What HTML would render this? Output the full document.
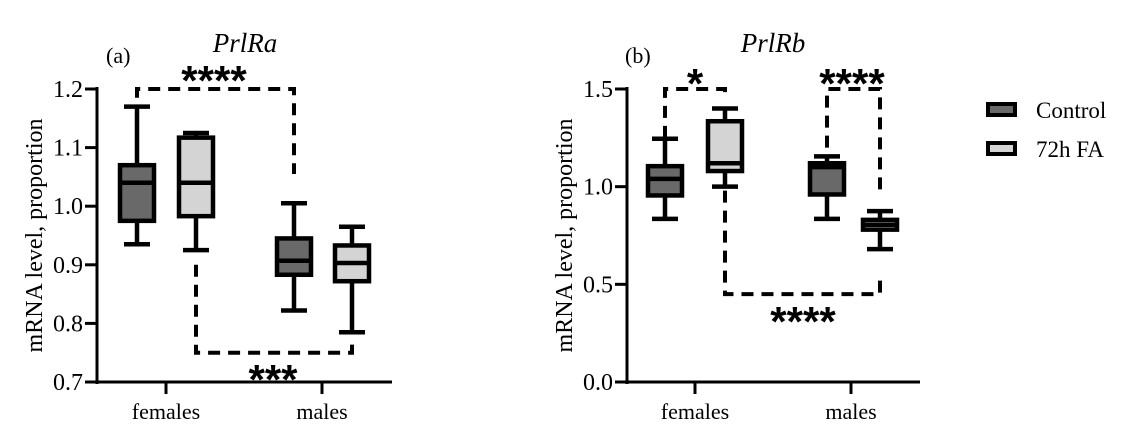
<!DOCTYPE html>
<html><head><meta charset="utf-8"><style>
html,body{margin:0;padding:0;background:#fff;}
svg{display:block;font-family:"Liberation Serif",serif;}
.star{font-family:"Liberation Sans",sans-serif;font-weight:bold;font-size:42px;}
</style></head><body>
<svg id="chart" width="1129" height="435" viewBox="0 0 1129 435"></svg>
<script>
const groups = ["females","males"];
const seriesNames = ["Control","72h FA"];
// [whiskerLow, q1, median, q3, whiskerHigh]
const aControl = [[0.935,0.975,1.04,1.07,1.17],[0.822,0.883,0.907,0.945,1.005]];
const aFA = [[0.925,0.983,1.04,1.117,1.125],[0.785,0.872,0.903,0.933,0.965]];
const bControl = [[0.835,0.955,1.04,1.105,1.245],[0.835,0.96,1.1,1.12,1.155]];
const bFA = [[1.0,1.08,1.12,1.335,1.40],[0.68,0.78,0.805,0.83,0.875]];
const aTicks = [0.7,0.8,0.9,1.0,1.1,1.2];
const bTicks = [0.0,0.5,1.0,1.5];

const NS="http://www.w3.org/2000/svg";
const svg=document.getElementById('chart');
function el(tag,attrs,parent){const e=document.createElementNS(NS,tag);for(const k in attrs)e.setAttribute(k,attrs[k]);(parent||svg).appendChild(e);return e;}
const fills=["#696969","#d4d4d4"];

function panel(p){
  const g=el('g',{});
  
  
  const y=v=>p.y0+(v-p.vmin)/(p.vmax-p.vmin)*(p.y1-p.y0);
  const ya=el('line',{x1:p.ax,y1:p.y1-2,x2:p.ax,y2:p.y0+2,stroke:'#000','stroke-width':3},g);
  
  const xa=el('line',{x1:p.ax-12,y1:p.y0,x2:p.axEnd,y2:p.y0,stroke:'#000','stroke-width':3},g);
  
  p.ticks.forEach(t=>{
    el('line',{x1:p.ax-12,x2:p.ax,y1:y(t),y2:y(t),stroke:'#000','stroke-width':3},g);
    const tx=el('text',{x:p.ax-14,y:y(t)+8,'text-anchor':'end','font-size':24},g);
    tx.textContent=t.toFixed(1);
    
  });
  groups.forEach((gname,i)=>{
    el('line',{x1:p.gx[i],x2:p.gx[i],y1:p.y0,y2:p.y0+12,stroke:'#000','stroke-width':3},g);
    const tx=el('text',{x:p.gx[i],y:p.y0+37,'text-anchor':'middle','font-size':22},g);
    tx.textContent=gname;
    
  });
  const yl=el('text',{x:0,y:0,'text-anchor':'middle','font-size':24,transform:`translate(${p.ylx},${(p.y0+p.y1)/2}) rotate(-90)`},g);
  yl.textContent='mRNA level, proportion';
  
  const ti=el('text',{x:p.tx,y:52,'text-anchor':'middle','font-size':27,'font-style':'italic'},g);
  ti.textContent=p.title;
  
  const lb=el('text',{x:p.lx,y:63,'font-size':22},g);
  lb.textContent=p.label;
  
  [p.ctrl,p.fa].forEach((ser,s)=>{
    ser.forEach((d,i)=>{
      const cx=p.bx[s][i],hw=17,cw=13;
      const bg=el('g',{},g);
      
      
      const st={stroke:'#000','stroke-width':4.5};
      el('line',Object.assign({x1:cx,x2:cx,y1:y(d[0]),y2:y(d[1])},st),bg);
      el('line',Object.assign({x1:cx,x2:cx,y1:y(d[3]),y2:y(d[4])},st),bg);
      el('line',Object.assign({x1:cx-cw,x2:cx+cw,y1:y(d[0]),y2:y(d[0])},st),bg);
      el('line',Object.assign({x1:cx-cw,x2:cx+cw,y1:y(d[4]),y2:y(d[4])},st),bg);
      el('rect',Object.assign({x:cx-hw,y:y(d[3]),width:2*hw,height:y(d[1])-y(d[3]),fill:fills[s]},st),bg);
      el('line',Object.assign({x1:cx-hw,x2:cx+hw,y1:y(d[2]),y2:y(d[2])},st),bg);
    });
  });
  p.brackets.forEach(b=>{
    const bg=el('g',{},g);
    
    
    el('path',{d:`M${b.x1},${y(b.l1)} L${b.x1},${y(b.v)} L${b.x2},${y(b.v)} L${b.x2},${y(b.l2)}`,fill:'none',stroke:'#000','stroke-width':4,'stroke-dasharray':'12,8'},bg);
    const st=el('text',{x:b.sx,y:b.sy,'text-anchor':'middle',class:'star'},bg);
    st.textContent=b.s;
    
  });
}

panel({name:'panel-a-prlra',ax:97,axEnd:392,y0:382,y1:89,vmin:0.7,vmax:1.2,ticks:aTicks,gx:[166,322],
  bx:[[137,294],[196,352]],ctrl:aControl,fa:aFA,ylx:42,tx:245,title:'PrlRa',lx:106,label:'(a)',
  brackets:[{x1:137,x2:294,v:1.2,l1:1.185,l2:1.055,s:'****',sx:214,sy:95},
            {x1:196,x2:352,v:0.75,l1:0.9,l2:0.765,s:'***',sx:273,sy:394}]});
panel({name:'panel-b-prlrb',ax:627,axEnd:920,y0:382,y1:89,vmin:0.0,vmax:1.5,ticks:bTicks,gx:[695,851],
  bx:[[665,827],[725,880]],ctrl:bControl,fa:bFA,ylx:572,tx:773,title:'PrlRb',lx:625,label:'(b)',
  brackets:[{x1:665,x2:725,v:1.5,l1:1.25,l2:1.45,s:'*',sx:695,sy:98},
            {x1:827,x2:880,v:1.5,l1:1.2,l2:0.96,s:'****',sx:852,sy:98},
            {x1:725,x2:880,v:0.45,l1:0.98,l2:0.55,s:'****',sx:803,sy:336}]});

seriesNames.forEach((n,i)=>{
  const lg=el('g',{});
  
  
  const yy=102+i*39;
  el('rect',{x:988,y:yy+2,width:27,height:11,fill:fills[i],stroke:'#000','stroke-width':4},lg);
  const t=el('text',{x:1036,y:yy+16,'font-size':23},lg);
  t.textContent=n;
});
</script>
</body></html>
